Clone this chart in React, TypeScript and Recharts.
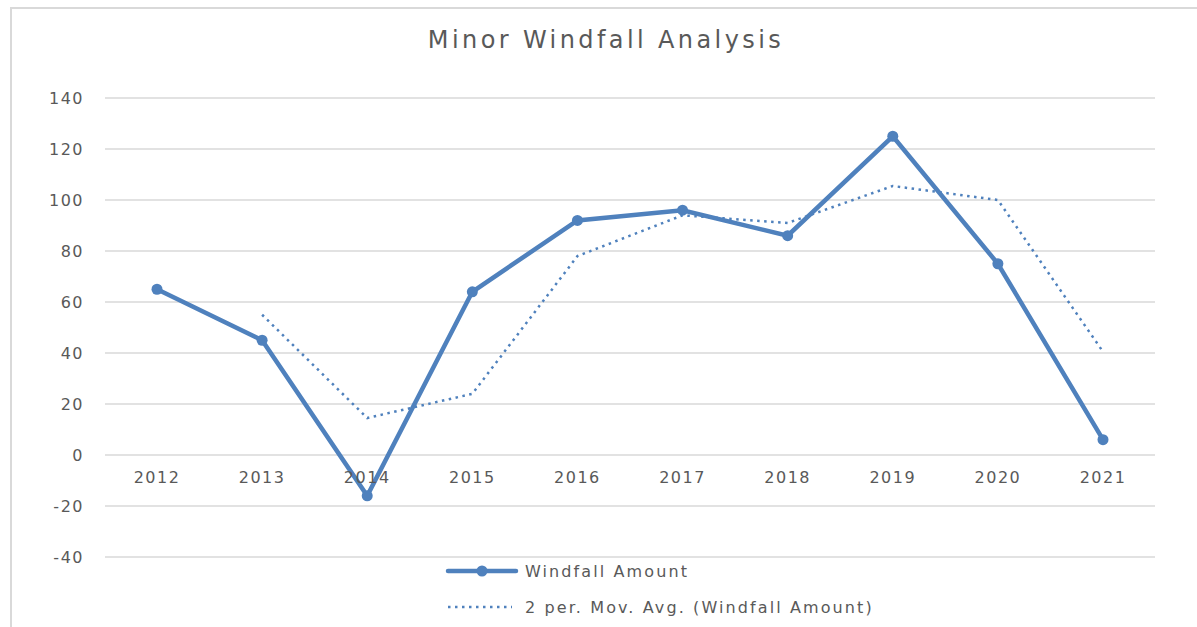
import React from 'react';
import { LineChart, Line, XAxis, YAxis, CartesianGrid, Legend } from 'recharts';

const years = ['2012', '2013', '2014', '2015', '2016', '2017', '2018', '2019', '2020', '2021'];
const windfall = [65, 45, -16, 64, 92, 96, 86, 125, 75, 6];
const movAvg = [null, 55, 14.5, 24, 78, 94, 91, 105.5, 100, 40.5];
const yTicks = [-40, -20, 0, 20, 40, 60, 80, 100, 120, 140];

const data = years.map((year, i) => ({ year, windfall: windfall[i], movAvg: movAvg[i] }));

const BLUE = '#4f81bd';
const TEXT = '#595959';
const FONT = '"DejaVu Sans", sans-serif';

// x labels sit just under the zero line, not at the bottom of the plot
const YearTick = (props: any) => {
  const { x, y, payload } = props;
  return (
    <text x={x} y={y - 82} textAnchor="middle" fill={TEXT} fontSize={16} fontFamily={FONT} letterSpacing={1.5}>
      {payload.value}
    </text>
  );
};

const LegendBox = () => (
  <svg width={480} height={60}>
    <line x1={4} y1={13} x2={72} y2={13} stroke={BLUE} strokeWidth={4.5} strokeLinecap="round" />
    <circle cx={38} cy={13} r={5.5} fill={BLUE} />
    <text x={81} y={19} fill={TEXT} fontSize={16} fontFamily={FONT} letterSpacing={2.1}>Windfall Amount</text>
    <line x1={4} y1={49} x2={68} y2={49} stroke={BLUE} strokeWidth={2.5} strokeDasharray="2.5 4.5" />
    <text x={81} y={55} fill={TEXT} fontSize={16} fontFamily={FONT} letterSpacing={2.1}>2 per. Mov. Avg. (Windfall Amount)</text>
  </svg>
);

export default function App() {
  return (
    <div style={{ position: 'absolute', left: 0, top: 0, width: 1197, height: 627, background: '#fff' }}>
      <div style={{ position: 'absolute', left: 10, top: 7, right: 0, bottom: 0, borderLeft: '2px solid #d9d9d9', borderTop: '2px solid #d9d9d9' }} />
      <LineChart width={1197} height={627} data={data} margin={{ top: 98, right: 42, bottom: 69, left: 45 }} style={{ position: 'absolute', left: 0, top: 0 }}>
        <text x={606} y={48} textAnchor="middle" fill={TEXT} fontSize={24} fontFamily={FONT} letterSpacing={3.4}>
          Minor Windfall Analysis
        </text>
        <CartesianGrid vertical={false} stroke="#d9d9d9" strokeWidth={1.5} />
        <XAxis
          dataKey="year"
          height={1}
          axisLine={false}
          tickLine={false}
          tick={<YearTick />}
          interval={0}
          padding={{ left: 52, right: 52 }}
        />
        <YAxis
          domain={[-40, 140]}
          ticks={yTicks}
          width={60}
          axisLine={false}
          tickLine={false}
          tickSize={0}
          tickMargin={21}
          tick={{ fill: TEXT, fontSize: 16, fontFamily: FONT, letterSpacing: 1.5 }}
        />
        <Line
          dataKey="movAvg"
          type="linear"
          stroke={BLUE}
          strokeWidth={2.5}
          strokeDasharray="2.5 4.5"
          dot={false}
          activeDot={false}
          connectNulls={false}
          isAnimationActive={false}
        />
        <Line
          dataKey="windfall"
          type="linear"
          stroke={BLUE}
          strokeWidth={4.5}
          dot={{ r: 5.5, fill: BLUE, stroke: BLUE, strokeWidth: 0 }}
          activeDot={false}
          isAnimationActive={false}
        />
        <Legend
          layout="vertical"
          align="center"
          verticalAlign="middle"
          content={<LegendBox />}
          wrapperStyle={{ left: 444, top: 558, width: 480, height: 60 }}
        />
      </LineChart>
    </div>
  );
}
